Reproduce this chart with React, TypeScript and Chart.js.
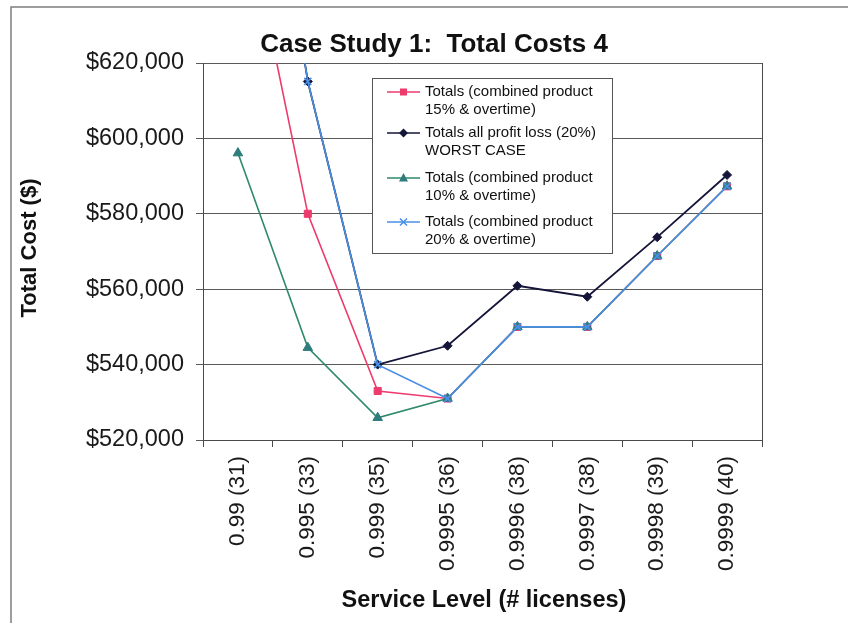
import React, { useEffect, useRef } from "react";
import { Chart, registerables } from "chart.js";

Chart.register(...registerables);

const serviceLevels = [
  "0.99 (31)",
  "0.995 (33)",
  "0.999 (35)",
  "0.9995 (36)",
  "0.9996 (38)",
  "0.9997 (38)",
  "0.9998 (39)",
  "0.9999 (40)",
];

const combined15 = [670000, 580000, 533000, 531000, 550000, 550000, 568800, 587300];
const profitLoss20 = [731000, 615100, 540000, 545000, 560900, 558000, 573800, 590300];
const combined10 = [596100, 544500, 525900, 531000, 550000, 550000, 568800, 587300];
const combined20 = [731000, 615100, 540000, 531000, 550000, 550000, 568800, 587300];

const yTicks = [520000, 540000, 560000, 580000, 600000, 620000];

const FONT = "'Liberation Sans', Arial, sans-serif";

const RED = "#ec3b6c";
const NAVY = "#15153a";
const GREEN_LINE = "#2f8a6c";
const GREEN_MARK = "#2e7c7c";
const BLUE = "#4a8fe6";

type LegendItem = { lines: string[]; color: string; mark: string; markColor: string };

const legendItems: LegendItem[] = [
  { lines: ["Totals (combined product", "15% & overtime)"], color: RED, mark: "square", markColor: RED },
  { lines: ["Totals all profit loss (20%)", "WORST CASE"], color: NAVY, mark: "diamond", markColor: NAVY },
  { lines: ["Totals (combined product", "10% & overtime)"], color: GREEN_LINE, mark: "triangle", markColor: GREEN_MARK },
  { lines: ["Totals (combined product", "20% & overtime)"], color: BLUE, mark: "cross", markColor: BLUE },
];

function drawMark(ctx: CanvasRenderingContext2D, kind: string, x: number, y: number, color: string) {
  ctx.save();
  ctx.fillStyle = color;
  ctx.strokeStyle = color;
  ctx.lineWidth = 1.5;
  ctx.beginPath();
  if (kind === "square") {
    ctx.rect(x - 3.5, y - 3.5, 7, 7);
    ctx.fill();
  } else if (kind === "diamond") {
    ctx.moveTo(x, y - 4.5);
    ctx.lineTo(x + 4.5, y);
    ctx.lineTo(x, y + 4.5);
    ctx.lineTo(x - 4.5, y);
    ctx.closePath();
    ctx.fill();
  } else if (kind === "triangle") {
    ctx.moveTo(x, y - 5);
    ctx.lineTo(x + 4.5, y + 3.5);
    ctx.lineTo(x - 4.5, y + 3.5);
    ctx.closePath();
    ctx.fill();
  } else {
    ctx.moveTo(x - 3.5, y - 3.5);
    ctx.lineTo(x + 3.5, y + 3.5);
    ctx.moveTo(x + 3.5, y - 3.5);
    ctx.lineTo(x - 3.5, y + 3.5);
    ctx.stroke();
  }
  ctx.restore();
}

const decorations = {
  id: "decorations",
  beforeDatasetsDraw(chart: any) {
    const { ctx, chartArea } = chart;
    ctx.save();
    ctx.strokeStyle = "#4a4a4a";
    ctx.lineWidth = 1;
    const r = Math.round(chartArea.right) + 0.5;
    ctx.beginPath();
    ctx.moveTo(r, Math.round(chartArea.top));
    ctx.lineTo(r, Math.round(chartArea.bottom) + 7);
    ctx.stroke();
    ctx.restore();
  },
  afterDatasetsDraw(chart: any) {
    const { ctx } = chart;
    ctx.save();
    // legend box
    const bx = 372, by = 78, bw = 240, bh = 175;
    ctx.fillStyle = "#ffffff";
    ctx.fillRect(bx, by, bw, bh);
    ctx.strokeStyle = "#555555";
    ctx.lineWidth = 1;
    ctx.strokeRect(bx + 0.5, by + 0.5, bw, bh);
    const rows = [92, 133, 178, 222];
    ctx.font = `15px ${FONT}`;
    ctx.textBaseline = "middle";
    ctx.textAlign = "left";
    legendItems.forEach((item, i) => {
      const y = rows[i];
      ctx.strokeStyle = item.color;
      ctx.lineWidth = 1.5;
      ctx.beginPath();
      ctx.moveTo(387, y);
      ctx.lineTo(420, y);
      ctx.stroke();
      drawMark(ctx, item.mark, 403.5, y, item.markColor);
      ctx.fillStyle = "#111111";
      item.lines.forEach((t, j) => ctx.fillText(t, 425, y + j * 18));
    });

    // titles
    ctx.fillStyle = "#111111";
    ctx.textAlign = "center";
    ctx.textBaseline = "middle";
    ctx.font = `bold 26px ${FONT}`;
    ctx.fillText("Case Study 1:  Total Costs 4", 434, 45);
    ctx.font = `bold 23.5px ${FONT}`;
    ctx.fillText("Service Level (# licenses)", 484, 601);
    ctx.save();
    ctx.translate(30, 248);
    ctx.rotate(-Math.PI / 2);
    ctx.font = `bold 22px ${FONT}`;
    ctx.fillText("Total Cost ($)", 0, 0);
    ctx.restore();

    // outer frame
    ctx.strokeStyle = "#7d7d7d";
    ctx.lineWidth = 1.5;
    ctx.beginPath();
    ctx.moveTo(11, 630);
    ctx.lineTo(11, 7);
    ctx.lineTo(860, 7);
    ctx.stroke();
    ctx.restore();
  },
};

export default function App() {
  const canvasRef = useRef<HTMLCanvasElement | null>(null);

  useEffect(() => {
    const canvas = canvasRef.current;
    if (!canvas) return;
    Chart.defaults.font.family = FONT;
    const chart = new Chart(canvas, {
      type: "line",
      data: {
        labels: serviceLevels,
        datasets: [
          {
            label: "Totals (combined product 15% & overtime)",
            data: combined15,
            order: 4,
            borderColor: RED,
            backgroundColor: RED,
            pointBackgroundColor: RED,
            pointBorderColor: RED,
            pointStyle: "rect",
            pointRadius: 5,
            borderWidth: 1.6,
            pointBorderWidth: 1,
          },
          {
            label: "Totals all profit loss (20%) WORST CASE",
            data: profitLoss20,
            order: 3,
            borderColor: NAVY,
            backgroundColor: NAVY,
            pointBackgroundColor: NAVY,
            pointBorderColor: NAVY,
            pointStyle: "rectRot",
            pointRadius: 4.5,
            borderWidth: 1.8,
            pointBorderWidth: 1,
          },
          {
            label: "Totals (combined product 10% & overtime)",
            data: combined10,
            order: 2,
            borderColor: GREEN_LINE,
            backgroundColor: GREEN_MARK,
            pointBackgroundColor: GREEN_MARK,
            pointBorderColor: GREEN_MARK,
            pointStyle: "triangle",
            pointRadius: 5.5,
            borderWidth: 1.6,
            pointBorderWidth: 1,
          },
          {
            label: "Totals (combined product 20% & overtime)",
            data: combined20,
            order: 1,
            borderColor: BLUE,
            backgroundColor: BLUE,
            pointBackgroundColor: BLUE,
            pointBorderColor: BLUE,
            pointStyle: "crossRot",
            pointRadius: 5,
            borderWidth: 1.6,
            pointBorderWidth: 1.6,
          },
        ],
      },
      options: {
        animation: false,
        responsive: false,
        maintainAspectRatio: false,
        layout: { padding: { top: 63, right: 86, bottom: 0, left: 0 } },
        plugins: {
          legend: { display: false },
          title: { display: false },
          tooltip: { enabled: false },
        },
        elements: { line: { tension: 0 } },
        scales: {
          x: {
            offset: true,
            grid: {
              display: true,
              offset: true,
              drawOnChartArea: false,
              drawTicks: true,
              tickLength: 7,
              color: "#4a4a4a",
              lineWidth: 1,
            },
            border: { display: true, color: "#4a4a4a", width: 1 },
            ticks: {
              autoSkip: false,
              minRotation: 90,
              maxRotation: 90,
              padding: 9,
              color: "#1a1a1a",
              font: { size: 22.5, family: FONT },
            },
            afterFit(scale: any) {
              scale.height = 183;
            },
          },
          y: {
            min: 520000,
            max: 620000,
            afterBuildTicks(scale: any) {
              scale.ticks = yTicks.map((v) => ({ value: v }));
            },
            grid: {
              color: "#5a5a5a",
              lineWidth: 1,
              tickLength: 7,
              drawTicks: true,
            },
            border: { display: true, color: "#4a4a4a", width: 1 },
            ticks: {
              padding: 12,
              color: "#1a1a1a",
              font: { size: 23.5, family: FONT },
              callback: (v: any) => "$" + Number(v).toLocaleString("en-US"),
            },
            afterFit(scale: any) {
              scale.width = 203;
            },
          },
        },
      },
      plugins: [decorations],
    });
    return () => chart.destroy();
  }, []);

  return (
    <div
      style={{
        position: "fixed",
        left: 0,
        top: 0,
        width: 848,
        height: 623,
        background: "#ffffff",
        overflow: "hidden",
      }}
    >
      <canvas ref={canvasRef} width={848} height={623} style={{ display: "block", width: 848, height: 623 }} />
    </div>
  );
}
